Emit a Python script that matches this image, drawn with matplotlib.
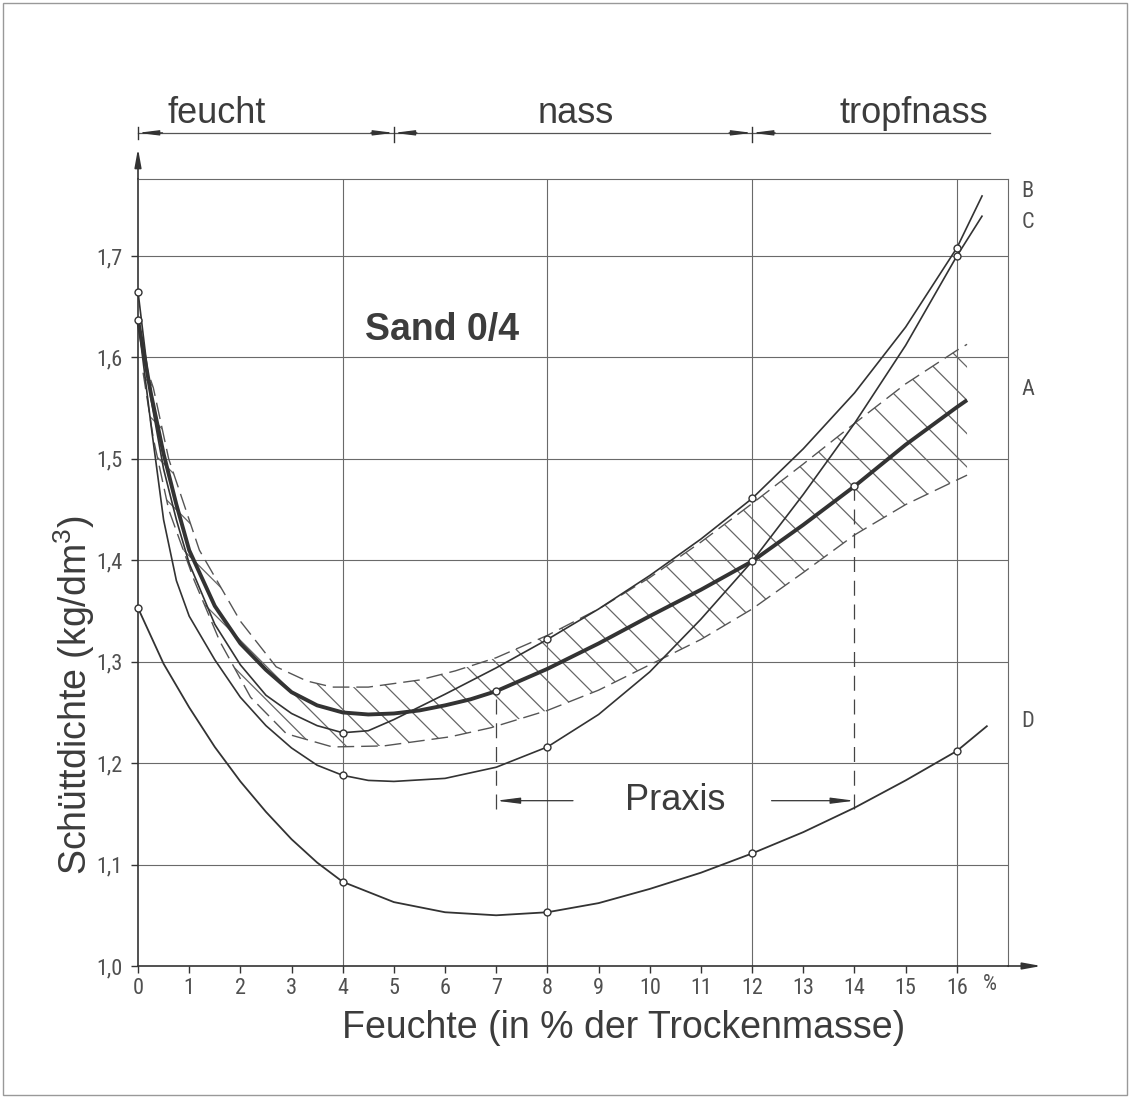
import numpy as np
import matplotlib.pyplot as plt
from matplotlib import font_manager
from matplotlib.patches import Rectangle

# Schuettdichte (kg/dm3) ueber Feuchte (% der Trockenmasse)
x_a = [0, 0.25, 0.5, 0.75, 1.0, 1.5, 2.0, 2.5, 3.0, 3.5, 4.0, 4.5, 5.0, 5.5, 6.0, 6.5,
       7.0, 8.0, 9.0, 10.0, 11.0, 12.0, 13.0, 14.0, 15.0, 16.0, 16.2]
y_a = [1.637, 1.565, 1.505, 1.455, 1.41, 1.355, 1.318, 1.292, 1.270, 1.257, 1.250, 1.248,
       1.249, 1.252, 1.257, 1.263, 1.271, 1.293, 1.318, 1.345, 1.371, 1.399, 1.435, 1.473,
       1.514, 1.551, 1.558]
mark_a = [0, 7, 14]

x_b = [0, 0.25, 0.5, 0.75, 1.0, 1.5, 2.0, 2.5, 3.0, 3.5, 4.0, 4.5, 5.0, 6.0, 7.0, 8.0,
       9.0, 10.0, 11.0, 12.0, 13.0, 14.0, 15.0, 16.0, 16.5]
y_b = [1.665, 1.56, 1.49, 1.44, 1.397, 1.337, 1.297, 1.267, 1.249, 1.237, 1.230, 1.232,
       1.243, 1.268, 1.294, 1.322, 1.352, 1.385, 1.421, 1.461, 1.51, 1.565, 1.63, 1.708, 1.76]
mark_b = [0, 4, 8, 12, 16]

x_c = [0, 0.25, 0.5, 0.75, 1.0, 1.5, 2.0, 2.5, 3.0, 3.5, 4.0, 4.5, 5.0, 6.0, 7.0, 8.0,
       9.0, 10.0, 11.0, 12.0, 13.0, 14.0, 15.0, 16.0, 16.5]
y_c = [1.637, 1.535, 1.44, 1.38, 1.345, 1.302, 1.265, 1.237, 1.215, 1.198, 1.188, 1.183,
       1.182, 1.185, 1.196, 1.216, 1.248, 1.290, 1.342, 1.399, 1.465, 1.535, 1.612, 1.700, 1.74]
mark_c = [4, 8, 12, 16]

x_d = [0, 0.5, 1.0, 1.5, 2.0, 2.5, 3.0, 3.5, 4.0, 5.0, 6.0, 7.0, 8.0, 9.0, 10.0, 11.0,
       12.0, 13.0, 14.0, 15.0, 16.0, 16.6]
y_d = [1.353, 1.298, 1.255, 1.216, 1.182, 1.152, 1.125, 1.102, 1.083, 1.063, 1.053, 1.050,
       1.053, 1.062, 1.076, 1.092, 1.111, 1.132, 1.156, 1.183, 1.212, 1.237]
mark_d = [0, 4, 8, 12, 16]

# Streubereich (gestrichelt, schraffiert)
x_up = [0.1, 0.3, 0.6, 1.2, 2.0, 2.7, 3.3, 3.8, 4.5, 5.5, 6.2, 7.0, 8.0, 9.0, 10.0, 11.0,
        12.0, 13.0, 14.0, 15.0, 16.0, 16.2]
y_up = [1.60, 1.57, 1.50, 1.41, 1.34, 1.295, 1.281, 1.275, 1.275, 1.282, 1.291, 1.304,
        1.326, 1.352, 1.383, 1.418, 1.456, 1.495, 1.535, 1.574, 1.607, 1.613]
x_lo = [0.1, 0.3, 0.6, 1.1, 1.6, 2.2, 2.9, 3.8, 4.8, 6.1, 6.9, 8.0, 9.0, 10.0, 11.0, 12.0,
        13.0, 14.0, 15.0, 16.2]
y_lo = [1.585, 1.52, 1.45, 1.38, 1.32, 1.265, 1.229, 1.216, 1.217, 1.226, 1.235, 1.252,
        1.272, 1.297, 1.322, 1.352, 1.388, 1.425, 1.455, 1.484]

x_ticks = list(range(0, 17))
y_ticks = [1.0, 1.1, 1.2, 1.3, 1.4, 1.5, 1.6, 1.7]
y_ticklabels = ['1,0', '1,1', '1,2', '1,3', '1,4', '1,5', '1,6', '1,7']
grid_x = [4, 8, 12, 16]
grid_y = [1.1, 1.2, 1.3, 1.4, 1.5, 1.6, 1.7]

zones = ['feucht', 'nass', 'tropfnass']
zone_pos = [1.54, 8.56, 15.15]
zone_bounds = [5, 12]
praxis = [7, 14]

names = {f.name for f in font_manager.fontManager.ttflist}
narrow = next((n for n in ['Liberation Sans Narrow', 'Roboto Condensed', 'Liberation Sans']
               if n in names), 'DejaVu Sans')

plt.rcParams['font.family'] = ['Liberation Sans', 'DejaVu Sans']
plt.rcParams['mathtext.fontset'] = 'custom'
plt.rcParams['mathtext.rm'] = 'Liberation Sans'
plt.rcParams['hatch.linewidth'] = 0.9

ink = '#333333'
txt = '#3c3c3c'
gridc = '#6a6a6a'
small = 16

fig = plt.figure(figsize=(11.31, 10.99), dpi=100)
ax = fig.add_axes([138 / 1131, 133 / 1099, 870 / 1131, 787 / 1099])
ax.set_xlim(0, 17)
ax.set_ylim(1.0, 1.776)

for s in ['top', 'right']:
    ax.spines[s].set_color(gridc)
    ax.spines[s].set_linewidth(0.8)
for s in ['left', 'bottom']:
    ax.spines[s].set_color(ink)
    ax.spines[s].set_linewidth(1.2)

ax.vlines(grid_x, 1.0, 1.776, color=gridc, lw=0.8, zorder=1)
ax.hlines(grid_y, 0, 17, color=gridc, lw=0.8, zorder=1)

ax.set_xticks(x_ticks)
ax.set_xticklabels([str(v) for v in x_ticks], fontfamily=narrow, fontsize=small, color='#505050')
ax.set_yticks(y_ticks)
ax.set_yticklabels(y_ticklabels, fontfamily=narrow, fontsize=small, color='#505050')
ax.tick_params(axis='x', length=5, width=1, color=ink, pad=4)
ax.tick_params(axis='y', length=5, width=1, color=ink, pad=6)
ax.text(16.65, 0.9817, '%', fontfamily=narrow, fontsize=small, color='#505050',
        ha='center', va='center', clip_on=False)

# Achsenpfeile
arr = dict(arrowstyle='-|>,head_length=1.1,head_width=0.2', color=ink, lw=1.2,
           shrinkA=0, shrinkB=0)
ax.annotate('', xy=(0, 1.806), xytext=(0, 1.776), arrowprops=arr, annotation_clip=False)
ax.annotate('', xy=(17.65, 1.0), xytext=(17, 1.0), arrowprops=arr, annotation_clip=False)

# Streubereich
poly_x = np.concatenate([x_up, x_lo[::-1]])
poly_y = np.concatenate([y_up, y_lo[::-1]])
ax.fill(poly_x, poly_y, facecolor='none', edgecolor='#666666', hatch='\\', lw=0, zorder=2)
ax.plot(x_up, y_up, color='#555555', lw=1.0, ls=(0, (12, 5)), zorder=3)
ax.plot(x_lo, y_lo, color='#555555', lw=1.0, ls=(0, (12, 5)), zorder=3)

# Kurven
for xs, ys, lw, mk in [(x_d, y_d, 1.3, mark_d), (x_c, y_c, 1.2, mark_c),
                       (x_b, y_b, 1.2, mark_b), (x_a, y_a, 2.8, mark_a)]:
    xs = np.array(xs)
    ys = np.array(ys)
    ax.plot(xs, ys, color=ink, lw=lw, solid_capstyle='butt', zorder=4, clip_on=False)
    sel = np.isin(xs, mk)
    ax.plot(xs[sel], ys[sel], 'o', ms=5, mfc='white', mec=ink, mew=1.0, zorder=5,
            clip_on=False)

for lab, yl in zip(['B', 'C', 'A', 'D'], [1.764, 1.733, 1.568, 1.241]):
    ax.text(17.38, yl, lab, fontfamily=narrow, fontsize=small, color='#505050',
            ha='center', va='center', clip_on=False)

# Praxis
y_pr = 1.163
for xp in praxis:
    ax.plot([xp, xp], [1.155, np.interp(xp, x_a, y_a)], color='#444444', lw=0.9,
            ls=(0, (12, 7)), zorder=3)
parr = dict(arrowstyle='-|>,head_length=1.4,head_width=0.18', color=ink, lw=0.9,
            shrinkA=0, shrinkB=0)
ax.annotate('', xy=(praxis[0], y_pr), xytext=(8.5, y_pr), arrowprops=parr)
ax.annotate('', xy=(praxis[1], y_pr), xytext=(12.38, y_pr), arrowprops=parr)
ax.text(10.5, y_pr, 'Praxis', fontsize=26, color=txt, ha='center', va='center')

ax.text(5.94, 1.627, 'Sand 0/4', fontsize=27, fontweight='bold', color=txt,
        ha='center', va='center')

# Feuchtebereiche oben
y_z = 1.8215
ax.plot([0, 16.65], [y_z, y_z], color='#555555', lw=0.9, clip_on=False)
zarr = dict(arrowstyle='-|>,head_length=1.2,head_width=0.15', color=ink, lw=0.9,
            shrinkA=0, shrinkB=0)
ax.plot([0, 0], [y_z - 0.006, y_z + 0.006], color=ink, lw=1, clip_on=False)
ax.annotate('', xy=(0, y_z), xytext=(0.48, y_z), arrowprops=zarr, annotation_clip=False)
for xb in zone_bounds:
    ax.plot([xb, xb], [y_z - 0.009, y_z + 0.006], color=ink, lw=1, clip_on=False)
    ax.annotate('', xy=(xb, y_z), xytext=(xb - 0.45, y_z), arrowprops=zarr,
                annotation_clip=False)
    ax.annotate('', xy=(xb, y_z), xytext=(xb + 0.45, y_z), arrowprops=zarr,
                annotation_clip=False)
for lab, xz in zip(zones, zone_pos):
    ax.text(xz, 1.831, lab, fontsize=26, color=txt, ha='center', va='baseline',
            clip_on=False)

ax.text(9.49, 0.929, 'Feuchte (in % der Trockenmasse)', fontsize=27, color=txt,
        ha='center', va='baseline', clip_on=False)
ax.text(-1.25, 1.267, r'Schüttdichte (kg/dm$^3$)', fontsize=27, color=txt,
        rotation=90, ha='center', va='center', clip_on=False)

fig.add_artist(Rectangle((3 / 1131, 4 / 1099), 1124 / 1131, 1092 / 1099,
                         transform=fig.transFigure, fill=False, ec='#999999', lw=1))

fig.savefig('out.png', dpi=100)
